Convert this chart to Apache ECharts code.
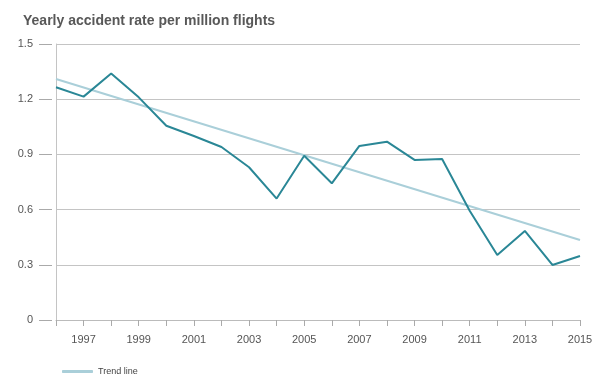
<!DOCTYPE html>
<html>
<head>
<meta charset="utf-8">
<script src="https://cdn.jsdelivr.net/npm/echarts@6/dist/echarts.min.js"></script>
<style>html,body{margin:0;padding:0;background:#fff}#c{width:600px;height:383px}</style>
</head>
<body>
<div id="c"></div>
<script>
var years = [1996,1997,1998,1999,2000,2001,2002,2003,2004,2005,2006,2007,2008,2009,2010,2011,2012,2013,2014,2015];
var rates = [1.265,1.214,1.34,1.21,1.056,1.0,0.94,0.83,0.66,0.893,0.743,0.946,0.969,0.87,0.875,0.594,0.353,0.484,0.299,0.348];
var trendYears = [1996, 2015];
var trendValues = [1.31, 0.435];
var yTicks = [0, 0.3, 0.6, 0.9, 1.2, 1.5];

var chart = echarts.init(document.getElementById('c'), null, {renderer:'canvas'});
var font = 'Liberation Sans, Arial, sans-serif';
chart.setOption({
  animation:false,
  title:{text:'Yearly accident rate per million flights', left:18, top:9,
    textStyle:{fontFamily:font, fontSize:14, fontWeight:'bold', color:'#585858'}},
  legend:{data:['Trend line'], left:57, top:362, icon:'roundRect', itemWidth:31, itemHeight:3, itemGap:5,
    textStyle:{fontFamily:font, fontSize:9, color:'#444'}},
  grid:{left:56, right:20, top:44, bottom:63},
  xAxis:{type:'value', min:1996, max:2015, interval:1,
    axisLine:{show:true, lineStyle:{color:'#bbb', width:1}},
    axisTick:{show:true, length:6, lineStyle:{color:'#aaa'}},
    splitLine:{show:false},
    axisLabel:{margin:14, fontFamily:font, fontSize:11, color:'#555',
      formatter:function(v){return (v%2===1)?String(v):'';}}},
  yAxis:[{type:'value', min:0, max:1.5, interval:0.3, offset:4,
    axisLine:{show:false},
    axisTick:{show:true, length:13, lineStyle:{color:'#aaa'}},
    splitLine:{show:true, lineStyle:{color:'#c4c4c4', width:1}},
    axisLabel:{margin:19, fontFamily:font, fontSize:11, color:'#555',
      formatter:function(v){ for (var i=0;i<yTicks.length;i++){ if (Math.abs(v-yTicks[i])<1e-6) return String(yTicks[i]); } return ''; }}},
   {type:'value', min:0, max:1.5, interval:0.3, position:'left',
    axisLine:{show:true, lineStyle:{color:'#c4c4c4', width:1}},
    axisTick:{show:false}, axisLabel:{show:false}, splitLine:{show:false}}],
  series:[
    {name:'Trend line', type:'line', symbol:'none', z:2,
      data: trendYears.map(function(y,i){return [y, trendValues[i]];}),
      lineStyle:{color:'#aacfd9', width:2}, itemStyle:{color:'#aacfd9'}},
    {name:'Accident rate', type:'line', symbol:'none', z:3,
      data: years.map(function(y,i){return [y, rates[i]];}),
      lineStyle:{color:'#2a8796', width:2}, itemStyle:{color:'#2a8796'}}
  ]
});
</script>
</body>
</html>
